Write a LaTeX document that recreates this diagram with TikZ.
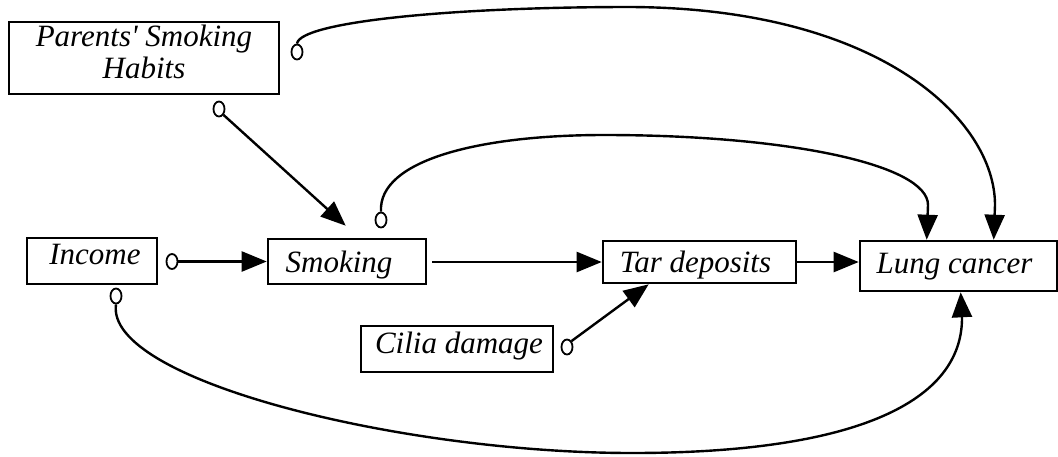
\documentclass[tikz,border=0pt]{standalone}
\usepackage{fontspec}
\setmainfont{Liberation Serif}
\usetikzlibrary{arrows.meta,shapes.geometric,calc}
\begin{document}
\begin{tikzpicture}[x=1pt,y=-1pt,
  box/.style={draw,rectangle,line width=2.6pt,inner sep=0pt,
    font=\itshape\fontsize{31}{32}\selectfont,align=center},
  base/.style={text height={15pt+#1pt},text depth={15pt-#1pt}},
  oo/.style={draw,ellipse,line width=1.8pt,minimum width=11pt,minimum height=15pt,inner sep=0pt},
  arr/.style={line width=2.4pt,-{Triangle[length=25pt,width=20pt]}}]
\useasboundingbox (0,0) rectangle (1058,456);
% boxes
\node[box,minimum width=270,minimum height=72] (par) at (144,58) {Parents\textquotesingle{} Smoking\\Habits\rule[-12pt]{0pt}{12pt}};
\node[box,base=3,minimum width=130,minimum height=46] (inc) at (92,261) {\hspace*{6pt}Income};
\node[box,base=10.5,minimum width=158,minimum height=45] (smk) at (347,261.5) {\hspace*{-16pt}Smoking};
\node[box,base=10,minimum width=193,minimum height=42] (tar) at (699.5,262) {\hspace*{-8pt}Tar deposits};
\node[box,base=7,minimum width=197,minimum height=50] (lung) at (958.5,266) {\hspace*{-8pt}Lung cancer};
\node[box,base=4,minimum width=192,minimum height=46] (cil) at (457,349) {\hspace*{4pt}Cilia damage};
% tail circles
\node[oo] (o1) at (297,52) {};
\node[oo] (o2) at (219,109) {};
\node[oo] (o3) at (381,220) {};
\node[oo] (o4) at (172,261.5) {};
\node[oo] (o5) at (116,296) {};
\node[oo] (o6) at (567,347) {};
% connectors
\draw[arr] (o1.north) .. controls (300,22) and (450,7) .. (630,7)
  .. controls (880,8) and (995,120) .. (995,205) -- ($(lung.north west)+(135,0)$);
\draw[arr] (o2.south east) -- ($(smk.north west)+(79,-12)$);
\draw[arr] (o3.north) .. controls (378,160) and (480,135) .. (604,135)
  .. controls (790,135) and (928,165) .. (928,205) -- ($(lung.north west)+(68,0)$);
\draw[arr] (o4.east) -- (smk.west);
\draw[arr] ($(smk.east)+(5,0.5)$) -- (tar.west);
\draw[arr] (tar.east) -- ($(lung.west)+(0,-4)$);
\draw[arr] (o6.north east) -- ($(tar.south west)+(47,0)$);
\draw[arr] (o5.south) .. controls (105,380) and (400,453) .. (632,453)
  .. controls (860,453) and (962,400) .. (962,318) -- ($(lung.south west)+(102,0)$);
\end{tikzpicture}
\end{document}
